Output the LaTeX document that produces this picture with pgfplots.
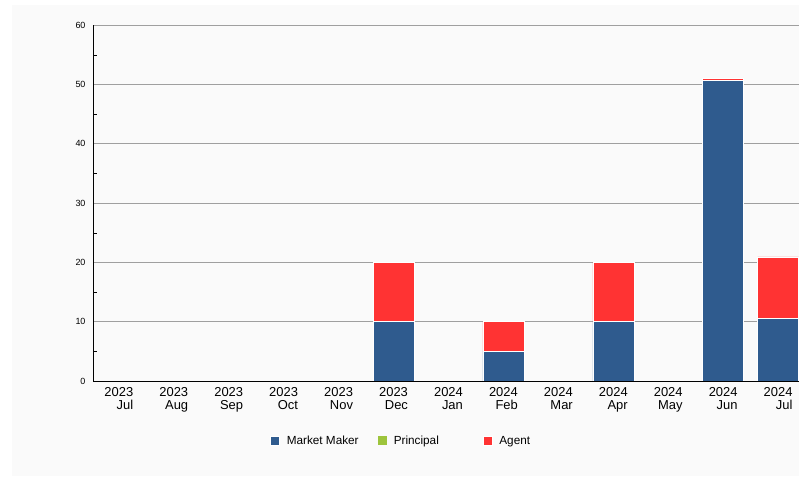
\documentclass[border=0pt]{standalone}
\usepackage{pgfplots}
\pgfplotsset{compat=1.18}
\usepackage{fontspec}
\setmainfont{Liberation Sans}
\definecolor{mmblue}{HTML}{2F5B8E}
\definecolor{prgreen}{HTML}{9DC43C}
\definecolor{agred}{HTML}{FF3333}
\definecolor{panel}{HTML}{FAFAFA}
\begin{document}
\begin{tikzpicture}
\useasboundingbox (0bp,0bp) rectangle (799bp,477bp);
\fill[white] (0bp,0bp) rectangle (799bp,477bp);
\fill[panel] (12bp,1bp) rectangle (799bp,472bp);
\begin{axis}[
    at={(93bp,96bp)}, anchor=south west,
    scale only axis, width=706bp, height=356bp,
    ybar stacked, bar width=41bp,
    xmin=-0.47, xmax=12.38,
    ymin=0, ymax=60,
    axis x line=bottom, axis y line=left,
    axis line style={-, black, line width=0.9pt},
    xtick={0,...,12},
    xticklabels={{2023\\Jul},{2023\\Aug},{2023\\Sep},{2023\\Oct},{2023\\Nov},{2023\\Dec},
        {2024\\Jan},{2024\\Feb},{2024\\Mar},{2024\\Apr},{2024\\May},{2024\\Jun},{2024\\Jul}},
    xticklabel style={align=right, font=\fontsize{13}{13.5}\selectfont, inner sep=1bp, yshift=-5bp},
    x tick style={draw=none},
    ytick={0,10,...,60},
    minor y tick num=1,
    y tick style={black},
    major tick length=0pt, minor tick length=4bp, tick align=inside,
    yticklabel style={font=\fontsize{9}{10}\selectfont, xshift=-4bp},
    /pgf/number format/assume math mode=true,
    ymajorgrids=true,
    major grid style={gray!75, line width=0.6pt},
    every axis plot/.append style={draw=white, line width=0.6pt},
    legend style={at={(0.2507,-0.1685)}, anchor=west, draw=none, fill=none,
        inner sep=0pt, font=\fontsize{11.8}{13}\selectfont,
        legend columns=3,
        /tikz/every odd column/.append style={column sep=7bp},
        nodes={inner sep=0pt}},
    legend image code/.code={\fill[#1] (0bp,-4.5bp) rectangle (9bp,4.5bp);},
]
\addplot[fill=mmblue] coordinates {
    (0,0) (1,0) (2,0) (3,0) (4,0) (5,10) (6,0) (7,5) (8,0) (9,10) (10,0) (11,50.6) (12,10.6)};
\addlegendentry{\makebox[91bp][l]{Market Maker}}
\addplot[fill=prgreen, draw=none] coordinates {
    (0,0) (1,0) (2,0) (3,0) (4,0) (5,0) (6,0) (7,0) (8,0) (9,0) (10,0) (11,0) (12,0)};
\addlegendentry{\makebox[89bp][l]{Principal}}
\addplot[fill=agred] coordinates {
    (0,0) (1,0) (2,0) (3,0) (4,0) (5,10) (6,0) (7,5) (8,0) (9,10) (10,0) (11,0.4) (12,10.3)};
\addlegendentry{Agent}
\end{axis}
\end{tikzpicture}
\end{document}
